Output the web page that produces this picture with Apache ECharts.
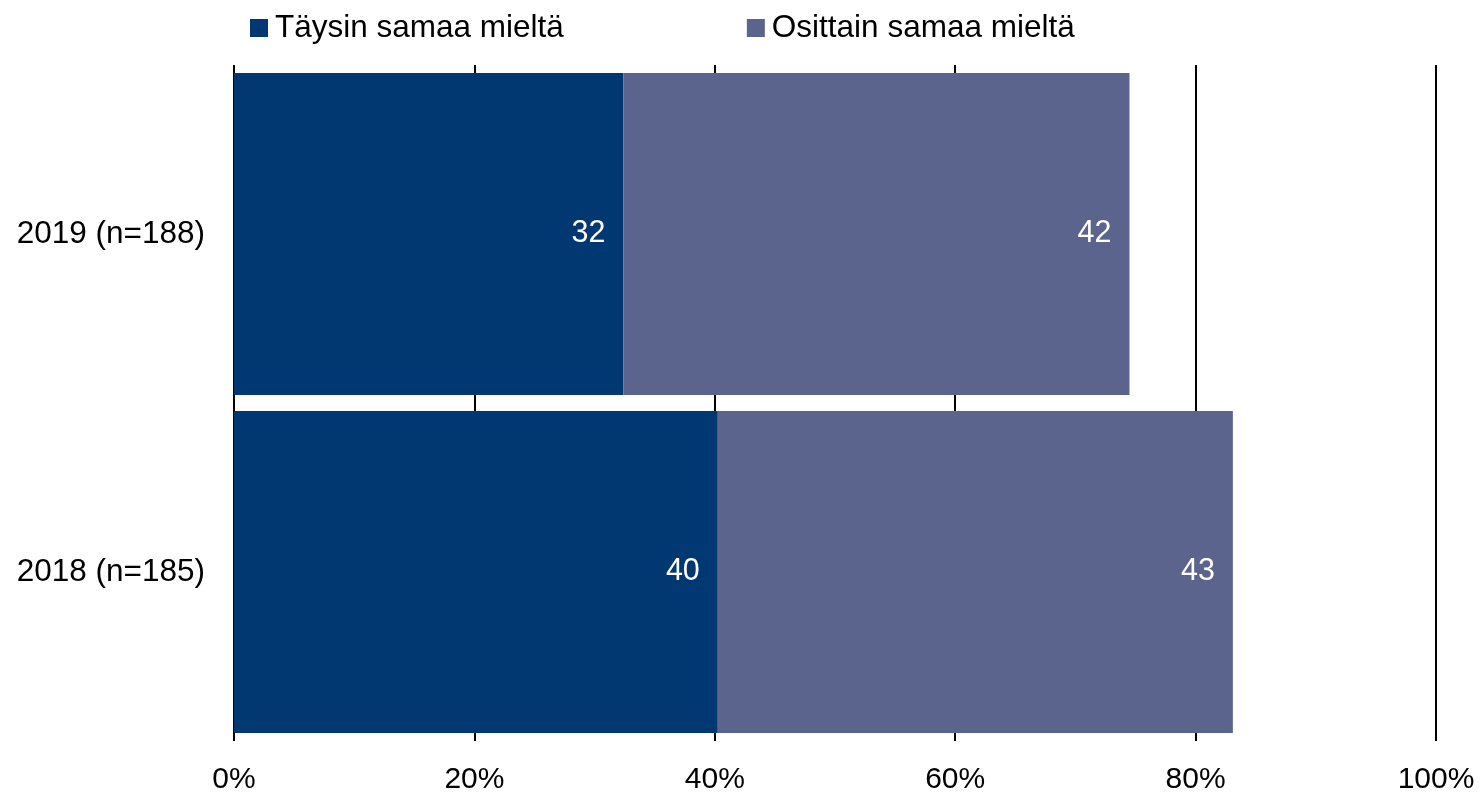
<!DOCTYPE html>
<html>
<head>
<meta charset="utf-8">
<script src="https://cdn.jsdelivr.net/npm/echarts@6/dist/echarts.min.js"></script>
<style>
  html, body { margin: 0; padding: 0; background: #fff; }
  #main { width: 1480px; height: 795px; }
</style>
</head>
<body>
<div id="main"></div>
<script>
// kategoriat (alhaalta ylös)
var categories = ['2018 (n=185)', '2019 (n=188)']
var taysin = [40.25, 32.4]
var osittain = [42.85, 42.1]
var seriesNames = ['Täysin samaa mieltä', 'Osittain samaa mieltä']

var myChart = echarts.init(document.getElementById('main'))
var font = 'Liberation Sans, Arial, sans-serif'
var labelOpt = {
  show: true,
  position: 'insideRight',
  distance: 18,
  color: '#fff',
  fontSize: 30.5,
  fontFamily: font,
  formatter: function (p) { return Math.round(p.value) }
}
var option = {
  animation: false,
  legend: {
    top: 7,
    left: 245,
    itemGap: 183,
    itemWidth: 18,
    itemHeight: 18,
    icon: 'rect',
    textStyle: { fontSize: 31.5, fontFamily: font, color: '#000', padding: [0, 0, 0, 2] },
    data: seriesNames
  },
  grid: { left: 234, right: 44, top: 65, bottom: 53 },
  xAxis: {
    type: 'value',
    min: 0,
    max: 100,
    interval: 20,
    axisLine: { show: false },
    axisTick: { show: false },
    axisLabel: { fontSize: 30, fontFamily: font, color: '#000', margin: 24, formatter: '{value}%' },
    splitLine: { show: true, lineStyle: { color: '#000', width: 2 } }
  },
  yAxis: {
    type: 'category',
    data: categories,
    axisLine: { show: false },
    axisTick: { show: false },
    axisLabel: { fontSize: 31.5, fontFamily: font, color: '#000', margin: 29 }
  },
  series: [
    {
      name: seriesNames[0],
      type: 'bar',
      stack: 'a',
      barCategoryGap: '4.8%',
      itemStyle: { color: '#023872' },
      label: labelOpt,
      data: taysin
    },
    {
      name: seriesNames[1],
      type: 'bar',
      stack: 'a',
      barCategoryGap: '4.8%',
      itemStyle: { color: '#5B648D' },
      label: labelOpt,
      data: osittain
    }
  ]
}
myChart.setOption(option)
</script>
</body>
</html>
